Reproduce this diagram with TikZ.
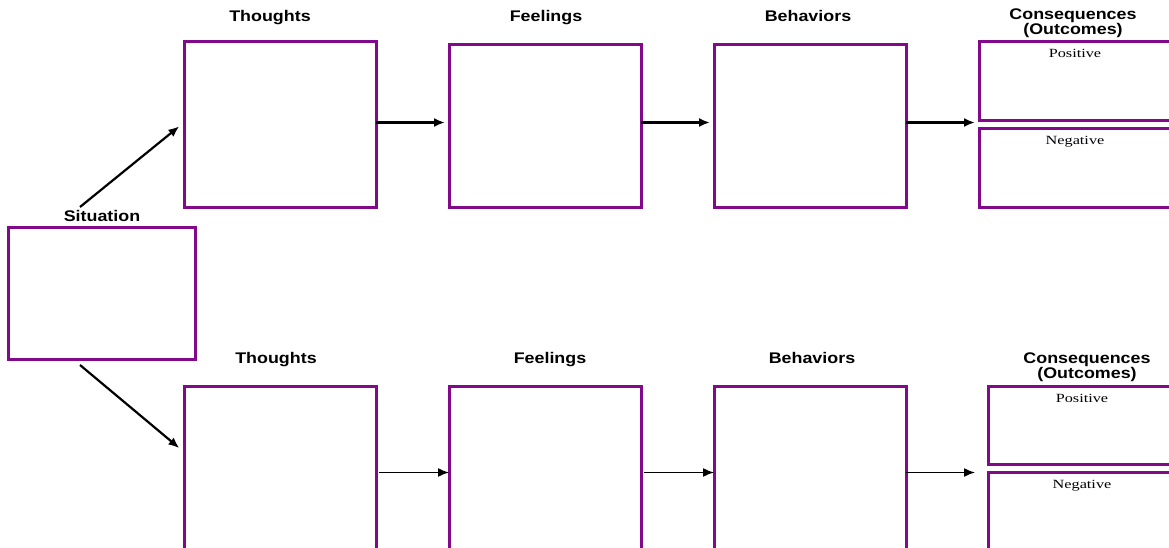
\documentclass[tikz,border=0pt]{standalone}
\usepackage{fontspec}
\usetikzlibrary{arrows.meta,calc}
\newfontfamily\labfont[FakeStretch=1.16]{Liberation Sans}
\newfontfamily\subfont[FakeStretch=1.3]{Liberation Serif}
\definecolor{boxpurple}{HTML}{820A8A}
\tikzset{
  box/.style={draw=boxpurple, line width=3pt, minimum width=192pt, anchor=north west, inner sep=0pt, outer sep=0pt},
  head/.style={font=\labfont\bfseries\fontsize{15.4}{13.5}\selectfont, inner sep=0pt, align=center, anchor=base},
  sub/.style={font=\subfont\fontsize{12.5}{14}\selectfont, inner sep=0pt, anchor=base},
  arr/.style={draw=black, line width=2.2pt, -{Latex[length=11pt,width=9pt]}},
  arrthin/.style={draw=black, line width=1.5pt, -{Latex[length=11pt,width=9pt]}}
}
\begin{document}
\begin{tikzpicture}[x=1pt,y=-1pt]
\useasboundingbox (0,0) rectangle (1169,548);
\clip (0,0) rectangle (1169,548);
\fill[white] (0,0) rectangle (1169,548);
% situation
\node[box, minimum width=187pt, minimum height=132pt] (s) at (8,227) {};
\node[head] (ls) at (102,222) {Situation};
% top row
\node[box, minimum height=165pt] (t1) at (184,42) {};
\node[box, minimum height=162pt] (f1) at (449,45) {};
\node[box, minimum height=162pt] (b1) at (714,45) {};
\node[box, minimum width=210pt, minimum height=79pt] (p1) at (979,42) {};
\node[box, minimum width=210pt, minimum height=78pt] (n1) at (979,129) {};
\node[sub] (lp1) at (1075,58) {Positive};
\node[sub] (ln1) at (1075,145) {Negative};
\node[head] (lt1) at (270,21.5) {Thoughts};
\node[head] (lf1) at (546,21.5) {Feelings};
\node[head] (lb1) at (808,21.5) {Behaviors};
\node[head] (lc1) at (1073,35) {Consequences\\(Outcomes)};
% bottom row
\node[box, minimum height=200pt] (t2) at (184,386) {};
\node[box, minimum height=200pt] (f2) at (449,386) {};
\node[box, minimum height=200pt] (b2) at (714,386) {};
\node[box, minimum width=210pt, minimum height=78pt] (p2) at (988,386) {};
\node[box, minimum width=210pt, minimum height=100pt] (n2) at (988,472) {};
\node[sub] (lp2) at (1082,402) {Positive};
\node[sub] (ln2) at (1082,488) {Negative};
\node[head] (lt2) at (276,363) {Thoughts};
\node[head] (lf2) at (550,363) {Feelings};
\node[head] (lb2) at (812,363) {Behaviors};
\node[head, font=\labfont\bfseries\fontsize{15.4}{15.5}\selectfont] (lc2) at (1087,378.5) {Consequences\\(Outcomes)};
% connectors
\coordinate (su) at (80,207);
\coordinate (sd) at (80,365);
\coordinate (c1) at ($(n1.north west)+(-4,-6.5)$);
\coordinate (c2) at ($(n2.north west)+(-13,0.5)$);
\draw[arr, shorten >=6pt] (su) -- (t1.west |- c1);
\draw[arr, shorten >=6pt] (sd) -- (t2.west |- 0,452);
\draw[arr, shorten >=4pt] (t1.east |- c1) -- (f1.west |- c1);
\draw[arr, shorten >=4pt] (f1.east |- c1) -- (b1.west |- c1);
\draw[arr] (b1.east |- c1) -- (c1);
\draw[arrthin, shorten <=3pt] (t2.east |- c2) -- (f2.west |- c2);
\draw[arrthin, shorten <=3pt] (f2.east |- c2) -- (b2.west |- c2);
\draw[arrthin] (b2.east |- c2) -- (c2);
\end{tikzpicture}
\end{document}
